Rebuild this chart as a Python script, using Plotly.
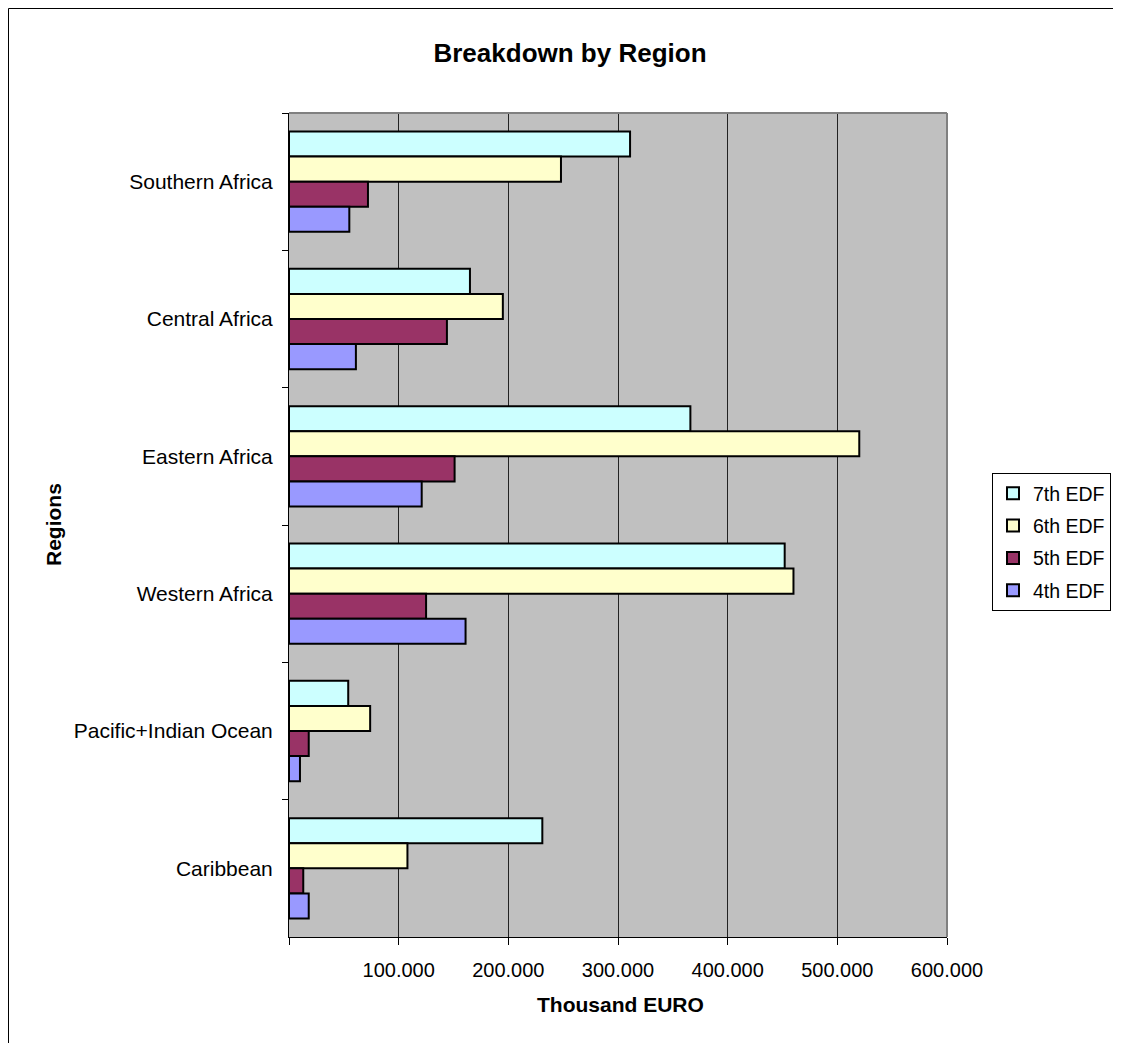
import plotly.graph_objects as go

regions = ["Southern Africa", "Central Africa", "Eastern Africa", "Western Africa",
           "Pacific+Indian Ocean", "Caribbean"]
edf7 = [311000, 165000, 366000, 452000, 54000, 231000]
edf6 = [248000, 195000, 520000, 460000, 74000, 108000]
edf5 = [72000, 144000, 151000, 125000, 18000, 13000]
edf4 = [55000, 61000, 121000, 161000, 10000, 18000]
series_names = ["7th EDF", "6th EDF", "5th EDF", "4th EDF"]
series_colors = ["#CCFFFF", "#FFFFCC", "#993366", "#9999FF"]
x_tickvals = [0, 100000, 200000, 300000, 400000, 500000, 600000]
x_ticktext = ["", "100.000", "200.000", "300.000", "400.000", "500.000", "600.000"]

FONT = "Arial, Liberation Sans, sans-serif"

fig = go.Figure()
for name, vals, col in zip(series_names, [edf7, edf6, edf5, edf4], series_colors):
    fig.add_trace(go.Bar(
        y=regions, x=vals, name=name, orientation="h", legendgroup=name,
        marker=dict(color=col, line=dict(color="#000000", width=2)),
    ))

# page has an 8px body margin; work in page coordinates and convert
OFF = 8
W, H = 1121 - OFF, 1043 - OFF
L, T = 289 - OFF, 113 - OFF
pw, ph = 947 - 289, 937 - 113
R, B = W - L - pw, H - T - ph

def px(x):
    return (x - OFF - L) / pw

def py(y):
    return (H - B - (y - OFF)) / ph

fig.update_layout(
    width=W, height=H, autosize=False,
    margin=dict(l=L, r=R, t=T, b=B, pad=0, autoexpand=False),
    paper_bgcolor="white", plot_bgcolor="#C0C0C0",
    barmode="group", bargap=0.27, bargroupgap=0,
    font=dict(family=FONT, size=20, color="black"),
    title=dict(text="<b>Breakdown by Region</b>", x=(570 - OFF) / W, xref="container",
               xanchor="center", y=1 - (53 - OFF) / H, yref="container", yanchor="middle",
               font=dict(family=FONT, size=26, color="black")),
    showlegend=True,
    legend=dict(x=px(992), xanchor="left", y=py(473), yanchor="top",
                bgcolor="white", bordercolor="black", borderwidth=1,
                font=dict(family=FONT, size=19.5, color="black"),
                traceorder="grouped", tracegroupgap=4, itemwidth=30),
    xaxis=dict(range=[0, 600000], tickvals=x_tickvals, ticktext=x_ticktext,
               showgrid=True, gridcolor="#222222", gridwidth=1,
               showline=True, linecolor="black", linewidth=1,
               ticks="outside", ticklen=7, tickcolor="black", tickwidth=1,
               ticklabelstandoff=8, zeroline=False,
               tickfont=dict(family=FONT, size=20, color="black")),
    yaxis=dict(autorange="reversed", type="category",
               showgrid=False, showline=True, linecolor="black", linewidth=1,
               ticks="outside", ticklen=6, tickcolor="black", tickwidth=1,
               tickson="boundaries", ticklabelstandoff=11,
               tickfont=dict(family=FONT, size=21, color="black")),
    shapes=[
        # plot area border (top and right)
        dict(type="line", xref="paper", yref="paper", x0=0, x1=1, y0=1, y1=1,
             line=dict(color="#808080", width=2)),
        dict(type="line", xref="paper", yref="paper", x0=1, x1=1, y0=0, y1=1,
             line=dict(color="#808080", width=2)),
        # chart frame
        dict(type="line", xref="paper", yref="paper", x0=px(8.5), x1=px(1130),
             y0=py(8.5), y1=py(8.5), line=dict(color="black", width=1)),
        dict(type="line", xref="paper", yref="paper", x0=px(8.5), x1=px(8.5),
             y0=py(8.5), y1=py(1060), line=dict(color="black", width=1)),
    ],
    annotations=[
        dict(text="<b>Thousand EURO</b>", xref="paper", yref="paper",
             x=px(620), y=py(1004), xanchor="center", yanchor="middle",
             showarrow=False, font=dict(family=FONT, size=21, color="black")),
        dict(text="<b>Regions</b>", xref="paper", yref="paper",
             x=px(53), y=py(525), xanchor="center", yanchor="middle",
             textangle=-90, showarrow=False,
             font=dict(family=FONT, size=21, color="black")),
    ],
)

fig.write_html("out.html")
